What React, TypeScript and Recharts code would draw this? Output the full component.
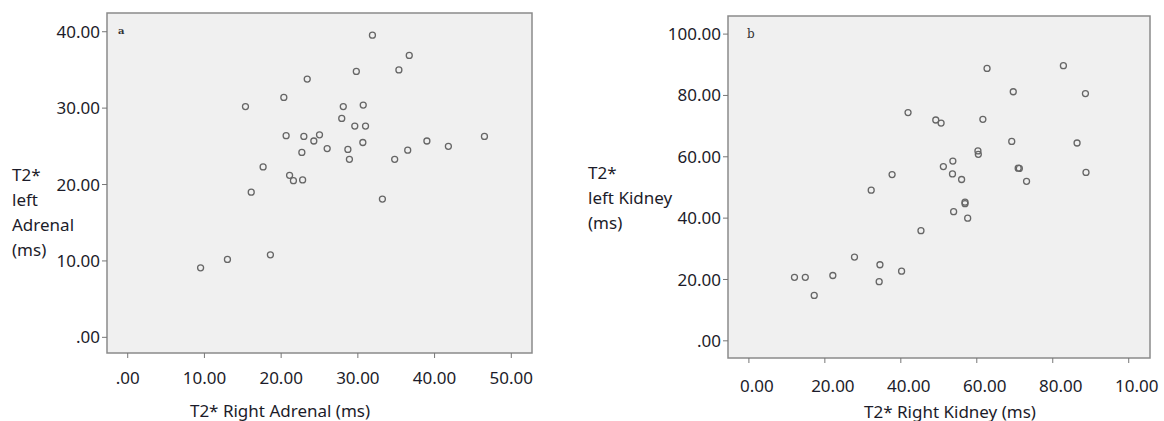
import React from "react";
import {
  CartesianGrid,
  ReferenceArea,
  Scatter,
  ScatterChart,
  XAxis,
  YAxis,
} from "recharts";

// Panel a: T2* right vs left adrenal (ms)
const adrenalRight = [
  31.9, 36.7, 35.35, 29.8, 23.4, 20.35, 15.35, 28.1, 30.7, 27.9, 29.6, 31.0,
  20.65, 22.96, 25.0, 24.26, 26.0, 28.7, 30.65, 22.7, 28.9, 34.8, 36.5, 39.0,
  41.8, 46.5, 17.65, 21.1, 21.6, 22.8, 16.1, 33.2, 18.6, 13.0, 9.5,
];
const adrenalLeft = [
  39.55, 36.9, 35.0, 34.8, 33.8, 31.4, 30.2, 30.2, 30.4, 28.65, 27.65, 27.65,
  26.4, 26.3, 26.5, 25.7, 24.7, 24.6, 25.5, 24.2, 23.3, 23.3, 24.5, 25.7,
  25.0, 26.3, 22.3, 21.2, 20.5, 20.6, 19.0, 18.1, 10.8, 10.2, 9.1,
];

// Panel b: T2* right vs left kidney (ms)
const kidneyRight = [
  82.8, 62.7, 69.6, 88.6, 41.9, 49.2, 50.6, 61.6, 69.2, 86.4, 60.3, 60.4,
  53.7, 51.2, 71.2, 70.9, 88.75, 53.6, 37.7, 56.0, 73.1, 32.2, 56.9, 56.9,
  53.9, 57.6, 45.3, 27.8, 34.5, 40.2, 22.1, 12.0, 14.85, 34.3, 17.2,
];
const kidneyLeft = [
  89.7, 88.8, 81.2, 80.6, 74.4, 72.0, 71.0, 72.2, 65.0, 64.5, 61.9, 60.8,
  58.6, 56.8, 56.2, 56.3, 54.9, 54.4, 54.2, 52.6, 52.0, 49.1, 45.2, 44.7,
  42.1, 40.0, 35.9, 27.3, 24.8, 22.7, 21.3, 20.7, 20.7, 19.3, 14.8,
];

const adrenalXTicks = [0, 10, 20, 30, 40, 50];
const adrenalXLabels = [".00", "10.00", "20.00", "30.00", "40.00", "50.00"];
const adrenalYTicks = [0, 10, 20, 30, 40];
const adrenalYLabels = [".00", "10.00", "20.00", "30.00", "40.00"];

const kidneyXTicks = [0, 20, 40, 60, 80, 100];
const kidneyXLabels = ["0.00", "20.00", "40.00", "60.00", "80.00", "10.00"];
const kidneyYTicks = [0, 20, 40, 60, 80, 100];
const kidneyYLabels = [".00", "20.00", "40.00", "60.00", "80.00", "100.00"];

const adrenalData = adrenalRight.map((x, i) => ({ x, y: adrenalLeft[i] }));
const kidneyData = kidneyRight.map((x, i) => ({ x, y: kidneyLeft[i] }));

const FONT = "'Noto Sans', sans-serif";
const TICK = { fontSize: 17, fill: "#1c1c2a", fontFamily: FONT };

function Dot(props: any) {
  const { cx, cy } = props;
  if (cx == null || cy == null) return null;
  return <circle cx={cx} cy={cy} r={3} fill="none" stroke="#666" strokeWidth={1.3} />;
}

function labelFor(ticks: number[], labels: string[]) {
  return (v: number) => {
    const i = ticks.indexOf(v);
    return i >= 0 ? labels[i] : String(v);
  };
}

function Panel({
  data,
  width,
  margin,
  xDomain,
  yDomain,
  xTicks,
  xLabels,
  yTicks,
  yLabels,
  xTickMargin,
  xTickDx,
}: {
  data: { x: number; y: number }[];
  width: number;
  margin: { top: number; right: number; bottom: number; left: number };
  xDomain: [number, number];
  yDomain: [number, number];
  xTicks: number[];
  xLabels: string[];
  yTicks: number[];
  yLabels: string[];
  xTickMargin: number;
  xTickDx: number;
}) {
  return (
    <ScatterChart width={width} height={421} margin={margin}>
      <CartesianGrid horizontal={false} vertical={false} fill="#f0f0f0" />
      <XAxis
        type="number"
        dataKey="x"
        domain={xDomain}
        ticks={xTicks}
        allowDataOverflow
        axisLine={false}
        tickSize={5}
        tickMargin={xTickMargin}
        tickLine={{ stroke: "#777" }}
        tick={{ ...TICK, dx: xTickDx }}
        tickFormatter={labelFor(xTicks, xLabels)}
        height={60}
        interval={0}
      />
      <YAxis
        type="number"
        dataKey="y"
        domain={yDomain}
        ticks={yTicks}
        allowDataOverflow
        axisLine={false}
        tickSize={5}
        tickMargin={2}
        tickLine={{ stroke: "#777" }}
        tick={TICK}
        tickFormatter={labelFor(yTicks, yLabels)}
        width={50}
        interval={0}
      />
      <ReferenceArea
        x1={xDomain[0]}
        x2={xDomain[1]}
        y1={yDomain[0]}
        y2={yDomain[1]}
        fill="none"
        stroke="#8a8a8a"
        strokeWidth={1.5}
        ifOverflow="visible"
      />
      <Scatter data={data} shape={<Dot />} isAnimationActive={false} />
    </ScatterChart>
  );
}

const textStyle: React.CSSProperties = {
  position: "absolute",
  fontFamily: FONT,
  fontSize: 17,
  color: "#1c1c2a",
  lineHeight: "25px",
  whiteSpace: "nowrap",
};

export default function App() {
  return (
    <div style={{ position: "absolute", left: 0, top: 0, width: 1164, height: 421, background: "#fff" }}>
      <div style={{ position: "absolute", left: 0, top: 0 }}>
        <Panel
          data={adrenalData}
          width={560}
          margin={{ top: 13, right: 28, bottom: 8, left: 57 }}
          xDomain={[-2.7, 52.7]}
          yDomain={[-2.05, 42.45]}
          xTicks={adrenalXTicks}
          xLabels={adrenalXLabels}
          yTicks={adrenalYTicks}
          yLabels={adrenalYLabels}
          xTickMargin={14}
          xTickDx={0}
        />
      </div>
      <div style={{ position: "absolute", left: 580, top: 0 }}>
        <Panel
          data={kidneyData}
          width={584}
          margin={{ top: 16, right: 14, bottom: 3, left: 98 }}
          xDomain={[-5.5, 105.6]}
          yDomain={[-5.6, 105.9]}
          xTicks={kidneyXTicks}
          xLabels={kidneyXLabels}
          yTicks={kidneyYTicks}
          yLabels={kidneyYLabels}
          xTickMargin={17}
          xTickDx={8}
        />
      </div>

      <div style={{ ...textStyle, left: 12, top: 162 }}>
        T2*<br />left<br />Adrenal<br />(ms)
      </div>
      <div style={{ ...textStyle, left: 588, top: 160 }}>
        T2*<br />left Kidney<br />(ms)
      </div>
      <div style={{ ...textStyle, left: 180, top: 398, width: 200, textAlign: "center" }}>
        T2* Right Adrenal (ms)
      </div>
      <div style={{ ...textStyle, left: 850, top: 399, width: 200, textAlign: "center" }}>
        T2* Right Kidney (ms)
      </div>

      <div style={{ position: "absolute", left: 118, top: 25, fontFamily: "'DejaVu Serif', serif", fontSize: 10, fontWeight: "bold", color: "#333" }}>
        a
      </div>
      <div style={{ position: "absolute", left: 747, top: 27, fontFamily: "'DejaVu Serif', serif", fontSize: 12, color: "#333" }}>
        b
      </div>
    </div>
  );
}
